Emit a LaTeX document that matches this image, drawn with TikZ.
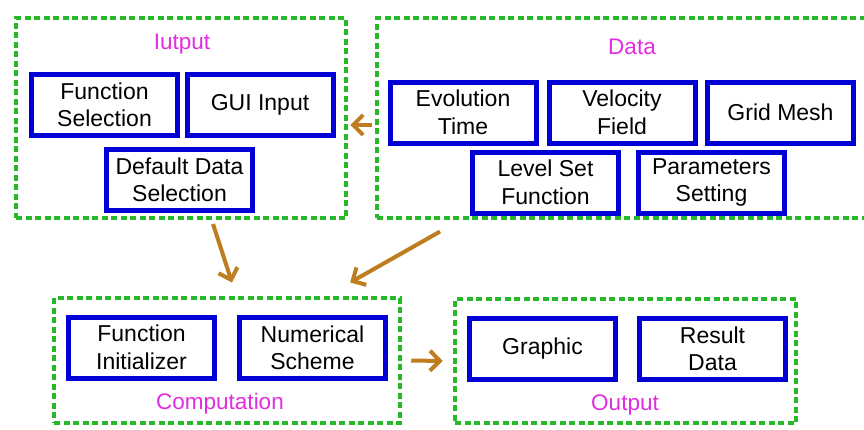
\documentclass[tikz,border=0pt]{standalone}
\usepackage{fontspec}
\setmainfont{Liberation Sans}
\usetikzlibrary{arrows.meta}
\definecolor{dgreen}{RGB}{40,185,40}
\definecolor{bblue}{RGB}{0,0,215}
\definecolor{tmag}{RGB}{225,45,225}
\definecolor{abrown}{RGB}{190,125,30}
\tikzset{
  grp/.style={draw=dgreen, line width=4.5pt, dash pattern=on 6pt off 3.5pt, inner sep=0pt},
  inbox/.style={draw=bblue, line width=5pt, minimum width=146pt, minimum height=61pt,
    inner sep=0pt, align=center, font=\fontsize{23}{27.5}\selectfont},
  ttl/.style={text=tmag, font=\fontsize{22.5}{27}\selectfont, inner sep=0pt},
  arr/.style={draw=abrown, line width=4pt, -{Straight Barb[length=10pt,width=20pt,line width=4pt]}}
}
\begin{document}
\begin{tikzpicture}[x=1pt,y=-1pt]
\clip (0,0) rectangle (864,429);
\fill[white] (0,0) rectangle (864,429);
% group frames
\node[grp, minimum width=330pt, minimum height=200pt] (inp) at (181,118) {};
\node[grp, minimum width=491pt, minimum height=200pt] (data) at (622.5,118) {};
\node[grp, minimum width=346pt, minimum height=125pt] (comp) at (227,360.5) {};
\node[grp, minimum width=341pt, minimum height=124pt] (out) at (625.5,361) {};
% titles
\node[ttl] (tinp) at (182,44) {Iutput};
\node[ttl] (tdata) at (632,47) {Data};
\node[ttl] (tcomp) at (220,404) {Computation};
\node[ttl] (tout) at (625,405) {Output};
% inner boxes
\node[inbox] (fs) at (104.5,105) {Function\\Selection};
\node[inbox] (gui) at (260,105) {GUI Input};
\node[inbox] (dds) at (179.5,180) {Default Data\\Selection};
\node[inbox] (evo) at (463,112.5) {Evolution\\Time};
\node[inbox] (vel) at (622,112.5) {Velocity\\Field};
\node[inbox] (grid) at (780.5,112.5) {Grid Mesh};
\node[inbox] (lsf) at (545.5,182.5) {Level Set\\Function};
\node[inbox] (ps) at (711.5,182.5) {Parameters\\Setting};
\node[inbox] (fi) at (141.5,347.5) {Function\\Initializer};
\node[inbox] (ns) at (312.5,348) {Numerical\\Scheme};
\node[inbox] (gr) at (542.5,349) {Graphic};
\node[inbox] (rd) at (712.5,349) {Result\\Data};
% connectors
\draw[arr, shorten <=3pt, shorten >=2pt] ([yshift=-7pt]data.west) -- ([yshift=-7pt]inp.east);
\draw[arr, shorten <=4pt, shorten >=14pt] ([xshift=30.8pt]inp.south) -- ([xshift=9.3pt]comp.north);
\draw[arr, shorten <=23pt, shorten >=27pt] ([xshift=-162.5pt]data.south) -- ([xshift=99.7pt]comp.north);
\draw[arr, shorten <=9pt, shorten >=10pt] (comp.east) -- (out.west);
\end{tikzpicture}
\end{document}
